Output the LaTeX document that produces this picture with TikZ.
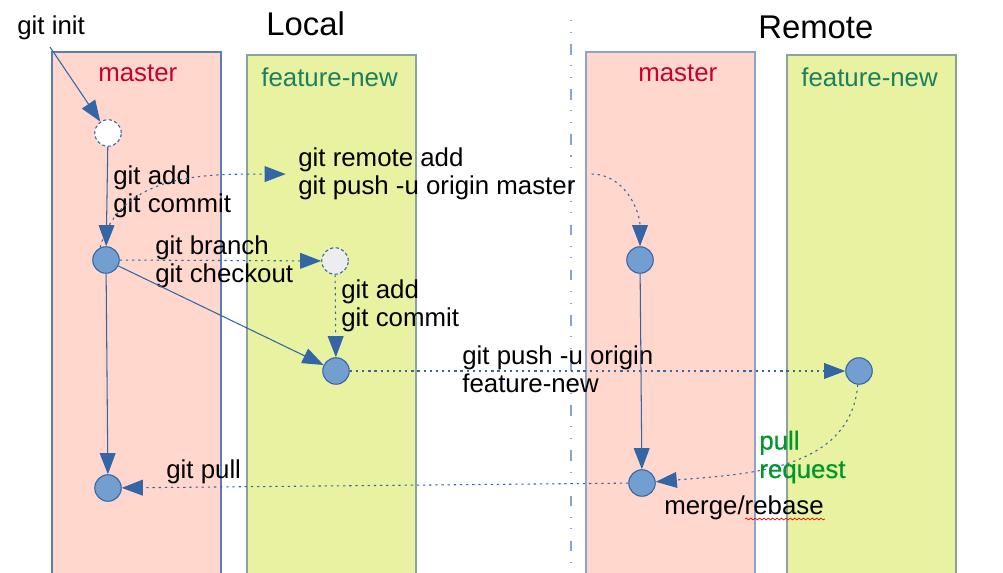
\documentclass[tikz,border=0pt]{standalone}
\usepackage{fontspec}
\setmainfont{Liberation Sans}
\usetikzlibrary{arrows.meta,decorations.pathmorphing}
\definecolor{lanered}{HTML}{FFD7CC}
\definecolor{laneyellow}{HTML}{E8F2A0}
\definecolor{laneblue}{HTML}{5A7DBA}
\definecolor{lanegreen}{HTML}{8AA39C}
\definecolor{commitfill}{HTML}{729FCF}
\definecolor{commitline}{HTML}{3465A4}
\definecolor{mastertext}{HTML}{C9002F}
\definecolor{featuretext}{HTML}{1A8060}
\definecolor{prgreen}{HTML}{00982C}
\tikzset{
  commit/.style={circle,draw=commitline,fill=commitfill,minimum size=0.53cm,inner sep=0pt,line width=0.6pt},
  blank/.style={commit,fill=white,dash pattern=on 1.8pt off 1.4pt},
  cmd/.style={anchor=base west,align=left,inner sep=0pt,font=\fontsize{14.7}{16.2}\selectfont},
  lanelabel/.style={anchor=base west,inner sep=0pt,font=\fontsize{14.7}{16.2}\selectfont},
  title/.style={anchor=base west,inner sep=0pt,font=\fontsize{18.7}{22}\selectfont},
  flow/.style={draw=commitline,line width=0.6pt,-{Triangle[length=12pt,width=9pt]}},
  hop/.style={flow,dash pattern=on 1.3pt off 2.2pt},
}
\begin{document}
\begin{tikzpicture}[x=0.02cm,y=-0.02cm]
\useasboundingbox (0,0) rectangle (1003,573);
\filldraw[fill=lanered,draw=laneblue,line width=0.6pt] (52,52) rectangle (221,590);
\filldraw[fill=laneyellow,draw=lanegreen,line width=0.6pt] (247,55) rectangle (416,590);
\filldraw[fill=lanered,draw=laneblue!70,line width=0.6pt] (586,52) rectangle (755,590);
\filldraw[fill=laneyellow,draw=lanegreen,line width=0.6pt] (787,55) rectangle (956,590);
\draw[laneblue!70,line width=0.8pt,dash pattern=on 0.6pt off 6pt on 0.6pt off 6.5pt on 6pt off 6pt] (571,20) -- (571,590);

\node[title] (local) at (266,36) {Local};
\node[title] (remote) at (758,39) {Remote};
\node[lanelabel,mastertext] (lm-label) at (98,82) {master};
\node[lanelabel,featuretext] (lf-label) at (261,87) {feature-new};
\node[lanelabel,mastertext] (rm-label) at (638,82) {master};
\node[lanelabel,featuretext] (rf-label) at (801,87) {feature-new};

\node[blank] (n1) at (108,133) {};
\node[commit] (n2) at (106,260) {};
\node[blank,fill=black!7] (n3) at (335,261) {};
\node[commit] (n4) at (336,371) {};
\node[commit] (n5) at (108,488) {};
\node[commit] (r1) at (640,260) {};
\node[commit] (r2) at (642,483) {};
\node[commit] (r3) at (859,371) {};

\node[cmd] (init) at (17,35) {git init};
\node[cmd] (add1) at (113,213) {git add\\git commit};
\node[cmd] (pushm) at (298,195) {git remote add\\git push -u origin master};
\node[cmd] (branch) at (155,283) {git branch\\git checkout};
\node[cmd] (add2) at (341,327) {git add\\git commit};
\node[cmd] (pushf) at (462,393) {git push -u origin\\feature-new};
\node[cmd] (pull) at (166,479) {git pull};
\node[cmd,prgreen,font=\fontsize{14.7}{16.2}\selectfont\addfontfeature{FakeBold=0.6}] (pr) at (759,478) {pull\\request};
\node[cmd] (merge) at (664,515) {merge/rebase};

\coordinate (init-start) at (50,47);
\draw[flow] (init-start) -- (n1);
\draw[flow] (n1) -- (n2);
\draw[hop] (n2.115) to[out=75,in=180] ([xshift=-7pt]pushm.west);
\draw[hop] ([xshift=9pt]pushm.east) to[out=0,in=90] (r1);
\draw[hop] (n2) -- (n3);
\draw[flow] (n2) -- (n4);
\draw[hop] (n3) -- (n4);
\draw[hop] (n4) -- (r3);
\draw[flow] (n2) -- (n5);
\draw[flow] (r1) -- (r2);
\draw[hop] (r3) to[out=-95,in=5] (r2);
\draw[hop] (r2) -- (n5);
\draw[red,decorate,decoration={snake,amplitude=0.5pt,segment length=2.5pt}] (745,519) -- (825,519);
\end{tikzpicture}
\end{document}
